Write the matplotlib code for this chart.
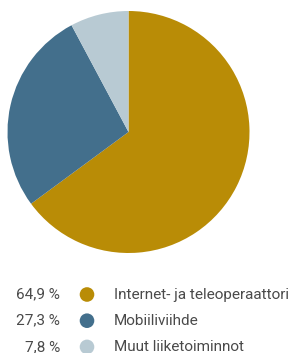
import matplotlib.pyplot as plt
from matplotlib.patches import Circle

# data
labels = ["Internet- ja teleoperaattori", "Mobiiliviihde", "Muut liiketoiminnot"]
shares = [64.9, 27.3, 7.8]
colors = ["#B98C06", "#436F8C", "#B8CAD3"]

W, H = 302, 353
fig = plt.figure(figsize=(W / 100, H / 100), dpi=100)
ax = fig.add_axes([0, 0, 1, 1])

# pie, clockwise from 12 o'clock
ax.pie(shares, colors=colors, startangle=90, counterclock=False,
       center=(128.5, H - 132), radius=121,
       wedgeprops=dict(linewidth=0))

# legend rows: percentage, dot, label
row_y = H - 294.5
step = 26.2
for i, (lab, val, col) in enumerate(zip(labels, shares, colors)):
    y = row_y - i * step
    pct = f"{val:.1f}".replace(".", ",") + " %"
    ax.text(60, y, pct, ha="right", va="center", fontsize=11,
            color="#4a4a4a", family="Roboto")
    ax.add_patch(Circle((87, y), 7.3, color=col, lw=0))
    ax.text(114, y, lab, ha="left", va="center", fontsize=11,
            color="#4a4a4a", family="Roboto")

ax.set_xlim(0, W)
ax.set_ylim(0, H)
ax.set_aspect("equal")
ax.axis("off")

fig.savefig("out.png", dpi=100)
